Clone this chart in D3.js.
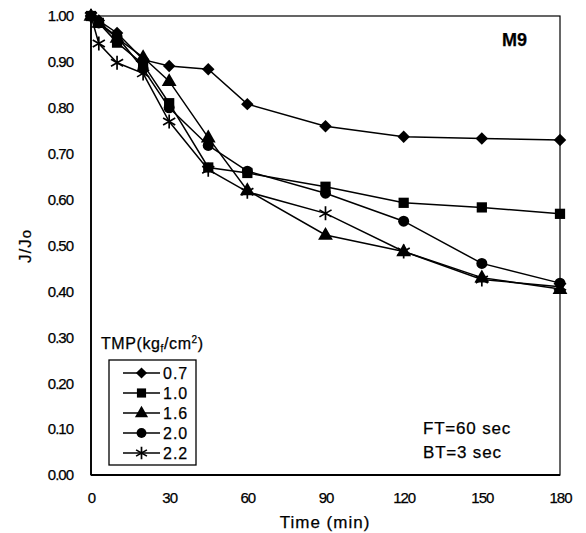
<!DOCTYPE html>
<html>
<head>
<meta charset="utf-8">
<script src="https://cdn.jsdelivr.net/npm/d3@7"></script>
<style>
  html, body { margin: 0; padding: 0; background: #fff; }
  svg { display: block; font-family: "Liberation Sans", Arial, sans-serif; }
  text { fill: #000; stroke: #000; stroke-width: 0.25px; }
</style>
</head>
<body>
<svg id="chart" width="586" height="533"></svg>
<script>
// Filtration time (min)
const times = [0, 3, 10, 20, 30, 45, 60, 90, 120, 150, 180];

// Normalised flux J/Jo for each transmembrane pressure (kgf/cm2)
const tmp07 = [1.00, 0.990, 0.963, 0.905, 0.891, 0.884, 0.808, 0.760, 0.737, 0.733, 0.730];
const tmp10 = [1.00, 0.985, 0.942, 0.895, 0.810, 0.670, 0.658, 0.628, 0.593, 0.583, 0.569];
const tmp16 = [1.00, 0.985, 0.952, 0.910, 0.858, 0.735, 0.620, 0.523, 0.487, 0.430, 0.405];
const tmp20 = [1.00, 0.985, 0.955, 0.885, 0.800, 0.718, 0.662, 0.614, 0.553, 0.461, 0.418];
const tmp22 = [1.00, 0.940, 0.898, 0.875, 0.770, 0.665, 0.617, 0.570, 0.487, 0.426, 0.410];

const seriesLabels = ["0.7", "1.0", "1.6", "2.0", "2.2"];
const seriesMarkers = ["diamond", "square", "triangle", "circle", "star"];
const seriesValues = [tmp07, tmp10, tmp16, tmp20, tmp22];

const xTicks = [0, 30, 60, 90, 120, 150, 180];
const yTicks = [0, 0.1, 0.2, 0.3, 0.4, 0.5, 0.6, 0.7, 0.8, 0.9, 1.0];

const svg = d3.select("#chart");
const plot = { left: 91, right: 560, top: 16, bottom: 475 };

const x = d3.scaleLinear().domain([0, 180]).range([plot.left, plot.right]);
const y = d3.scaleLinear().domain([0, 1]).range([plot.bottom, plot.top]);

// Marker shapes
const starPath = (r) => {
  let p = "";
  [90, 30, 150].forEach(a => {
    const rad = a * Math.PI / 180;
    const dx = r * Math.cos(rad), dy = r * Math.sin(rad);
    p += `M${-dx},${-dy}L${dx},${dy}`;
  });
  return p;
};
function drawMarker(g, type, cx, cy, scale) {
  const s = scale || 1;
  if (type === "diamond") {
    g.append("path").attr("d", d3.symbol().type(d3.symbolSquare).size(78 * s)())
      .attr("transform", `translate(${cx},${cy}) rotate(45)`).attr("fill", "#000");
  } else if (type === "square") {
    g.append("path").attr("d", d3.symbol().type(d3.symbolSquare).size(105 * s)())
      .attr("transform", `translate(${cx},${cy})`).attr("fill", "#000");
  } else if (type === "triangle") {
    g.append("path").attr("d", d3.symbol().type(d3.symbolTriangle).size(95 * s)())
      .attr("transform", `translate(${cx},${cy + 0.5})`).attr("fill", "#000");
  } else if (type === "circle") {
    g.append("path").attr("d", d3.symbol().type(d3.symbolCircle).size(95 * s)())
      .attr("transform", `translate(${cx},${cy})`).attr("fill", "#000");
  } else if (type === "star") {
    g.append("path").attr("d", starPath(7 * Math.sqrt(s)))
      .attr("transform", `translate(${cx},${cy})`)
      .attr("stroke", "#000").attr("stroke-width", 1.7).attr("fill", "none");
  }
}

// Frame
svg.append("rect")
  .attr("x", plot.left).attr("y", plot.top)
  .attr("width", plot.right - plot.left).attr("height", plot.bottom - plot.top)
  .attr("fill", "none").attr("stroke", "#000").attr("stroke-width", 1.2);
svg.append("line").attr("x1", plot.left).attr("x2", plot.left)
  .attr("y1", plot.top).attr("y2", plot.bottom).attr("stroke", "#000").attr("stroke-width", 1.8);
svg.append("line").attr("x1", plot.left).attr("x2", plot.right)
  .attr("y1", plot.bottom).attr("y2", plot.bottom).attr("stroke", "#000").attr("stroke-width", 1.8);

// Axes (labels only)
const xAxis = svg.append("g").attr("transform", `translate(0,${plot.bottom})`)
  .call(d3.axisBottom(x).tickValues(xTicks).tickSize(0).tickPadding(17).tickFormat(d3.format("d")));
const yAxis = svg.append("g").attr("transform", `translate(${plot.left},0)`)
  .call(d3.axisLeft(y).tickValues(yTicks).tickSize(0).tickPadding(18).tickFormat(d3.format(".2f")));
[xAxis, yAxis].forEach(a => {
  a.select(".domain").remove();
  a.selectAll("text").attr("font-size", 15).attr("fill", "#000")
    .attr("font-family", "'Liberation Sans', Arial, sans-serif").attr("letter-spacing", -1);
});

// Series lines and markers
const line = d3.line().x(d => x(d[0])).y(d => y(d[1]));
seriesValues.forEach((vals, i) => {
  const pts = times.map((t, j) => [t, vals[j]]);
  svg.append("path").datum(pts).attr("d", line)
    .attr("fill", "none").attr("stroke", "#000").attr("stroke-width", 1.5);
});
seriesValues.forEach((vals, i) => {
  const g = svg.append("g");
  times.forEach((t, j) => drawMarker(g, seriesMarkers[i], x(t), y(vals[j])));
});

// Axis titles
svg.append("text").attr("x", 325).attr("y", 528).attr("text-anchor", "middle")
  .attr("font-size", 17).attr("letter-spacing", 1).text("Time (min)");
const yt = svg.append("text").attr("transform", "translate(31,246) rotate(-90)")
  .attr("text-anchor", "middle").attr("font-size", 17).attr("letter-spacing", 1);
yt.append("tspan").text("J/J");
yt.append("tspan").attr("font-size", 15).text("o");

// Annotations
svg.append("text").attr("x", 502).attr("y", 46).attr("font-size", 18)
  .attr("font-weight", "bold").attr("stroke-width", 0).text("M9");
svg.append("text").attr("x", 423).attr("y", 434).attr("font-size", 17)
  .attr("letter-spacing", 0.8).text("FT=60 sec");
svg.append("text").attr("x", 423).attr("y", 458).attr("font-size", 17)
  .attr("letter-spacing", 0.8).text("BT=3 sec");

// Legend
const lt = svg.append("text").attr("x", 101).attr("y", 349).attr("font-size", 16).attr("letter-spacing", 0.6);
lt.append("tspan").text("TMP(kg");
lt.append("tspan").attr("font-size", 10).attr("dy", 3).text("f");
lt.append("tspan").attr("dy", -3).text("/cm");
lt.append("tspan").attr("font-size", 10).attr("dy", -6).text("2");
lt.append("tspan").attr("dy", 6).text(")");

svg.append("rect").attr("x", 109).attr("y", 360).attr("width", 87).attr("height", 105)
  .attr("fill", "#fff").attr("stroke", "#000").attr("stroke-width", 1.3);
const legendY = d3.scalePoint().domain(seriesLabels).range([373, 453]);
seriesLabels.forEach((lab, i) => {
  const cy = legendY(lab);
  svg.append("line").attr("x1", 123).attr("x2", 160).attr("y1", cy).attr("y2", cy)
    .attr("stroke", "#000").attr("stroke-width", 1.3);
  drawMarker(svg, seriesMarkers[i], 141.5, cy, 0.8);
  svg.append("text").attr("x", 163).attr("y", cy + 6).attr("font-size", 16)
    .attr("letter-spacing", 1).text(lab);
});
</script>
</body>
</html>
